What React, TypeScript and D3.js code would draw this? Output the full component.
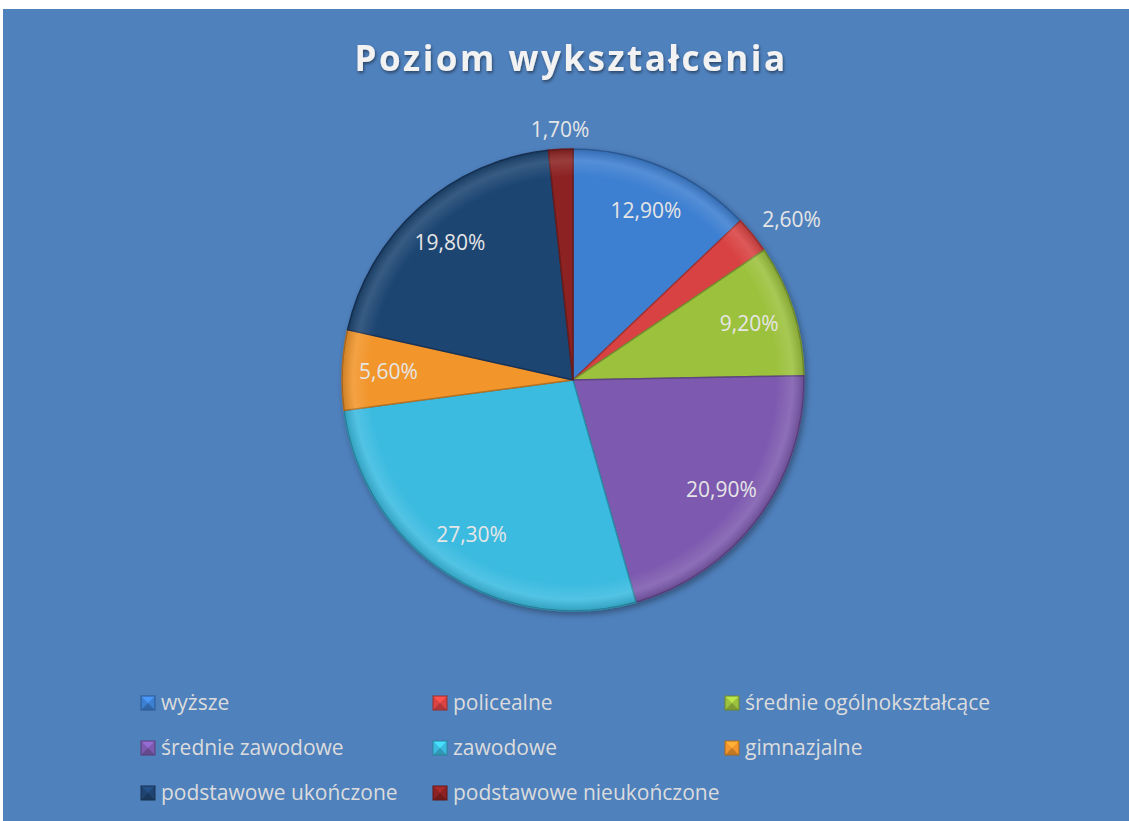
import React from "react";
import * as d3 from "d3";

const categories = [
  "wyższe",
  "policealne",
  "średnie ogólnokształcące",
  "średnie zawodowe",
  "zawodowe",
  "gimnazjalne",
  "podstawowe ukończone",
  "podstawowe nieukończone",
];
const values = [12.9, 2.6, 9.2, 20.9, 27.3, 5.6, 19.8, 1.7];
const labels = ["12,90%", "2,60%", "9,20%", "20,90%", "27,30%", "5,60%", "19,80%", "1,70%"];
const colors = ["#3d7fd1", "#d94343", "#9cc13e", "#7d5aaf", "#3bbbe0", "#f2952c", "#1f4472", "#8c2222"];
// small slices get their label outside the pie
const outside = [false, true, false, false, false, false, false, true];

const W = 1129;
const H = 821;
const cx = 573;
const cy = 380;
const R = 231;

export default function App() {
  const pie = d3.pie<number>().sort(null).value((d) => d);
  const arcs = pie(values);
  const arc = d3.arc<d3.PieArcDatum<number>>().innerRadius(0).outerRadius(R);
  const labelArc = d3.arc<d3.PieArcDatum<number>>().innerRadius(R * 0.8).outerRadius(R * 0.8);

  const legendX = [141, 433, 725];
  const legendY = [703, 748, 793];

  return (
    <svg width={W} height={H} style={{ position: "fixed", left: 0, top: 0 }}>
      <defs>
        <radialGradient id="bevel" cx="0.5" cy="0.5" r="0.5">
          <stop offset="0.88" stopColor="#fff" stopOpacity="0" />
          <stop offset="0.95" stopColor="#fff" stopOpacity="0.12" />
          <stop offset="1" stopColor="#000" stopOpacity="0.15" />
        </radialGradient>
        <filter id="shadow" x="-20%" y="-20%" width="140%" height="140%">
          <feDropShadow dx="2" dy="3" stdDeviation="3" floodColor="#000" floodOpacity="0.35" />
        </filter>
        <filter id="tshadow">
          <feDropShadow dx="1" dy="2" stdDeviation="1.5" floodColor="#000" floodOpacity="0.45" />
        </filter>
      </defs>
      <rect x={0} y={0} width={W} height={H} fill="#fff" />
      <rect x={3} y={9} width={W - 3} height={H - 9} fill="#4f81bd" />

      <text
        x={571}
        y={71}
        textAnchor="middle"
        fontFamily="'Open Sans', sans-serif"
        fontWeight="bold"
        fontSize={35}
        letterSpacing={2.5}
        fill="#f2f2f2"
        filter="url(#tshadow)"
      >
        Poziom wykształcenia
      </text>

      <g transform={`translate(${cx},${cy})`}>
        <g filter="url(#shadow)">
          {arcs.map((a, i) => (
            <path key={i} d={arc(a) || ""} fill={colors[i]} stroke={d3.color(colors[i])!.darker(0.8).formatHex()} strokeWidth={1.5} />
          ))}
        </g>
        <circle r={R} fill="url(#bevel)" />
        {arcs.map((a, i) => {
          let x: number, y: number, anchor = "middle", dy = "0.35em";
          if (outside[i]) {
            const m = (a.startAngle + a.endAngle) / 2;
            const s = Math.sin(m);
            const c = Math.cos(m);
            x = (R + 12) * s;
            y = -(R + 12) * c;
            anchor = s > 0.3 ? "start" : s < -0.3 ? "end" : "middle";
            dy = c > 0.3 ? "0em" : c < -0.3 ? "0.9em" : "0.35em";
          } else {
            [x, y] = labelArc.centroid(a);
          }
          return (
            <text
              key={i}
              x={x}
              y={y}
              dy={dy}
              textAnchor={anchor}
              fontFamily="'Open Sans', sans-serif"
              fontSize={21}
              fill="#e6e6e6"
            >
              {labels[i]}
            </text>
          );
        })}
      </g>

      {categories.map((name, i) => {
        const x = legendX[i % 3];
        const y = legendY[Math.floor(i / 3)];
        const c = d3.color(colors[i])!;
        const s = 14;
        const x0 = x, y0 = y - s / 2;
        return (
          <g key={name}>
            <rect x={x0} y={y0} width={s} height={s} fill={c.formatHex()} />
            <polygon points={`${x0},${y0} ${x0 + s},${y0} ${x0 + s / 2},${y0 + s / 2}`} fill={c.brighter(0.5).formatHex()} />
            <polygon points={`${x0},${y0 + s} ${x0 + s},${y0 + s} ${x0 + s / 2},${y0 + s / 2}`} fill={c.darker(0.6).formatHex()} />
            <rect x={x0} y={y0} width={s} height={s} fill="none" stroke={c.darker(1).formatHex()} strokeWidth={1} />
            <text
              x={x + 20}
              y={y}
              dy="0.35em"
              fontFamily="'Open Sans', sans-serif"
              fontSize={21}
              fill="#dcdcdc"
            >
              {name}
            </text>
          </g>
        );
      })}
    </svg>
  );
}
